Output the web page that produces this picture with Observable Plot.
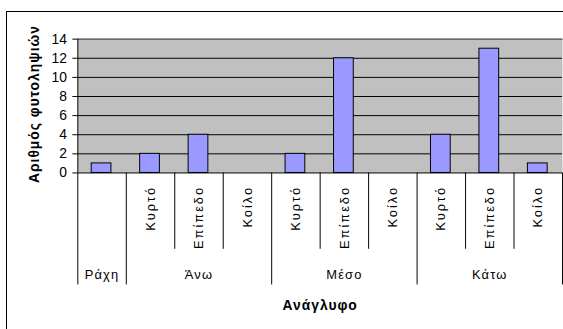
<!DOCTYPE html>
<html>
<head>
<meta charset="utf-8">
<script src="https://cdn.jsdelivr.net/npm/d3@7"></script>
<script src="https://cdn.jsdelivr.net/npm/@observablehq/plot@0.6"></script>
<style>
  html, body { margin: 0; padding: 0; background: #fff; overflow: hidden; }
  #wrap { position: relative; width: 563px; height: 329px; overflow: hidden; }
  #border { position: absolute; left: 6px; top: 11px; width: 700px; height: 500px; border: 1px solid #000; box-sizing: border-box; }
  #chart { position: absolute; left: 0; top: 0; }
</style>
</head>
<body>
<div id="wrap"><div id="border"></div><div id="chart"></div></div>
<script>
// ---- data ----
const groups = ["Ράχη", "Άνω", "Μέσο", "Κάτω"];
const slotGroups = ["Ράχη", "Άνω", "Άνω", "Άνω", "Μέσο", "Μέσο", "Μέσο", "Κάτω", "Κάτω", "Κάτω"];
const subLabels = ["", "Κυρτό", "Επίπεδο", "Κοίλο", "Κυρτό", "Επίπεδο", "Κοίλο", "Κυρτό", "Επίπεδο", "Κοίλο"];
const counts = [1, 2, 4, 0, 2, 12, 0, 4, 13, 1];
const yTicks = [0, 2, 4, 6, 8, 10, 12, 14];
const yTitle = "Αριθμός φυτοληψιών";
const xTitle = "Ανάγλυφο";

// ---- derived tables ----
const slots = counts.map((v, i) => ({i, group: slotGroups[i], sub: subLabels[i], value: v}));
const groupSpans = groups.map(g => {
  const idx = slots.filter(s => s.group === g).map(s => s.i);
  return {group: g, start: d3.min(idx), end: d3.max(idx) + 1};
});
const longBounds = Array.from(new Set(groupSpans.flatMap(g => [g.start, g.end])));
const shortBounds = d3.range(0, slots.length + 1).filter(b => !longBounds.includes(b));

const W = 568, H = 329, mL = 78, mR = 1, mT = 39, mB = 155;
const FONT = "Arial, 'Liberation Sans', sans-serif";

const chart = Plot.plot({
  width: W,
  height: H,
  marginLeft: mL,
  marginRight: mR,
  marginTop: mT,
  marginBottom: mB,
  style: {fontFamily: FONT, fontSize: "14px", color: "#000", background: "transparent"},
  x: {type: "linear", domain: [0, slots.length], axis: null},
  y: {domain: [0, 14], ticks: yTicks, tickSize: 5, tickPadding: 6, label: null, tickFormat: d => d},
  marks: [
    Plot.frame({fill: "#C0C0C0"}),
    Plot.ruleY(yTicks.filter(t => t > 0), {stroke: "#000", strokeWidth: 1}),
    Plot.frame({stroke: "#808080", anchor: "top"}),
    Plot.rectY(slots.filter(d => d.value > 0), {
      x1: "i", x2: d => d.i + 1, y: "value",
      insetLeft: 14, insetRight: 15,
      fill: "#9999FF", stroke: "#000", strokeWidth: 1
    }),
    Plot.ruleY([0], {stroke: "#000"}),
    Plot.ruleX([0], {stroke: "#000"}),
    // category axis separators
    Plot.ruleX(longBounds, {y1: 0, y2: 0, insetBottom: -113, stroke: "#000"}),
    Plot.ruleX(shortBounds, {y1: 0, y2: 0, insetBottom: -77, stroke: "#000"}),
    // sub-category labels
    Plot.text(slots.filter(d => d.sub), {
      x: d => d.i + 0.5, text: "sub", frameAnchor: "bottom",
      rotate: -90, textAnchor: "end", lineAnchor: "middle", dy: 13, fontSize: 13, fill: "#000"
    }),
    // group labels
    Plot.text(groupSpans, {
      x: d => (d.start + d.end) / 2, text: "group", frameAnchor: "bottom",
      lineAnchor: "middle", dy: 103, fontSize: 13, fill: "#000"
    }),
    // axis titles
    Plot.text([xTitle], {frameAnchor: "bottom", lineAnchor: "middle", textAnchor: "middle", dy: 134, fontWeight: "bold", fontSize: 14, fill: "#000"}),
    Plot.text([yTitle], {frameAnchor: "left", textAnchor: "middle", lineAnchor: "middle", dx: -44, dy: -2, rotate: -90, fontWeight: "bold", fontSize: 14, fill: "#000"})
  ]
});
// letter spacing to mimic the wide rendering of the original
const textGroups = chart.querySelectorAll('g[aria-label="text"]');
const spacing = [2, 1.2, 1, 1];
textGroups.forEach((g, k) => g.setAttribute("letter-spacing", spacing[k] ?? 0));
document.getElementById("chart").appendChild(chart);
</script>
</body>
</html>
